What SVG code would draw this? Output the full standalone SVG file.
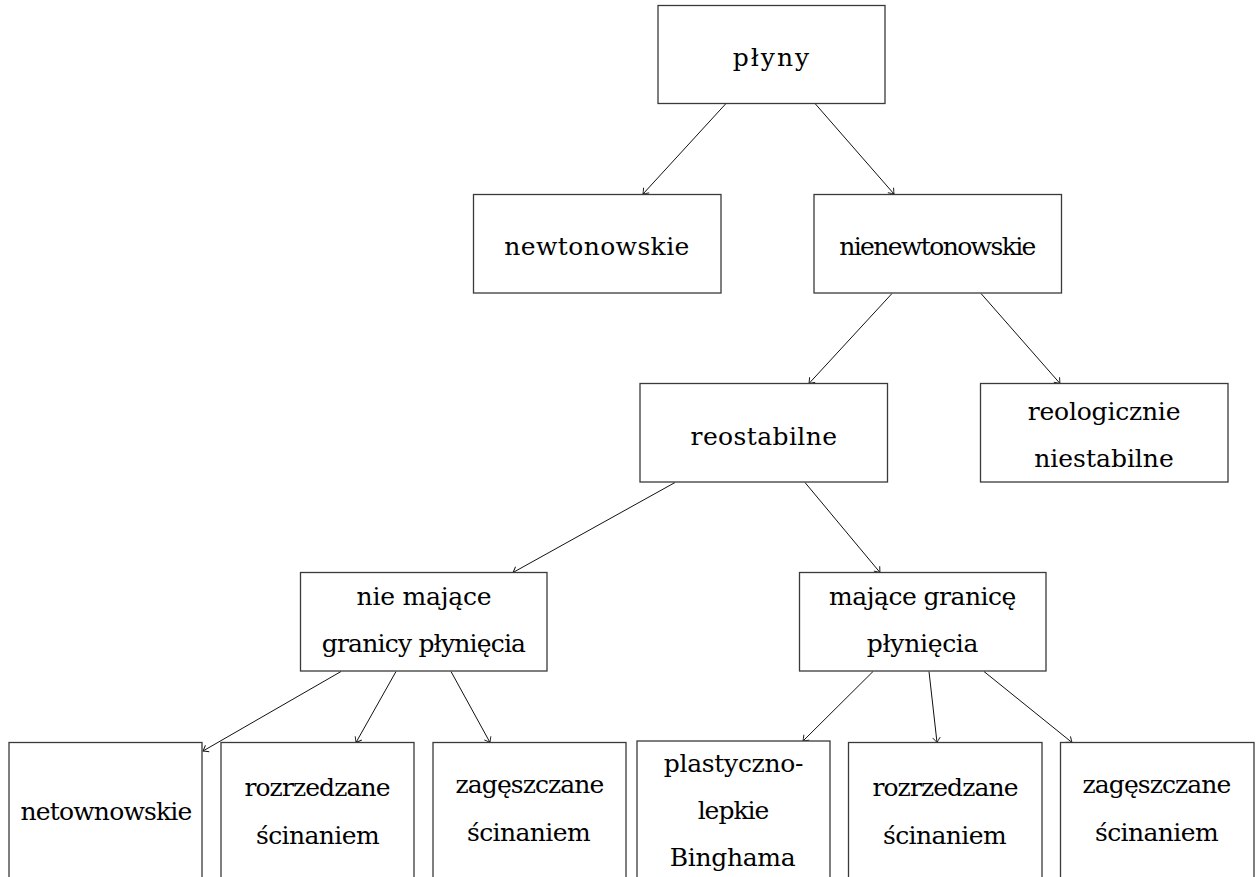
<svg xmlns="http://www.w3.org/2000/svg" width="1259" height="877" viewBox="0 0 1259 877">
<style>
.box{fill:#ffffff;stroke:#3a3a3a;stroke-width:1.3}
.edge{stroke:#111;stroke-width:1;fill:none;marker-end:url(#to)}
</style>
<defs>
<marker id="to" viewBox="-6 -5 7 10" refX="0" refY="0" markerWidth="7" markerHeight="10" markerUnits="userSpaceOnUse" orient="auto">
<path d="M -5 -3.8 Q -1.5 -1 0 0 Q -1.5 1 -5 3.8" fill="none" stroke="#111" stroke-width="0.9"/>
</marker>
</defs>
<rect width="1259" height="877" fill="#ffffff"/>
<g id="connectors">
<line class="edge" x1="726" y1="103.5" x2="643" y2="194"/>
<line class="edge" x1="815" y1="103.5" x2="894" y2="194"/>
<line class="edge" x1="892" y1="293.5" x2="809" y2="383.5"/>
<line class="edge" x1="981" y1="293.5" x2="1060" y2="383.5"/>
<line class="edge" x1="675" y1="482.5" x2="513" y2="572.5"/>
<line class="edge" x1="805" y1="482.5" x2="880" y2="572.5"/>
<line class="edge" x1="341" y1="671.5" x2="203" y2="751"/>
<line class="edge" x1="396" y1="671.5" x2="356" y2="742.5"/>
<line class="edge" x1="451" y1="671.5" x2="490" y2="742.5"/>
<line class="edge" x1="873" y1="671.5" x2="803" y2="741"/>
<line class="edge" x1="929" y1="671.5" x2="937" y2="742.5"/>
<line class="edge" x1="984" y1="671.5" x2="1072" y2="742.5"/>
</g>
<g id="n-plyny">
<rect class="box" x="658" y="5.5" width="227" height="98"/>
<text x="772" y="66" font-family="DejaVu Serif" font-size="25" text-anchor="middle" letter-spacing="2">płyny</text>
</g>
<g id="n-newtonowskie">
<rect class="box" x="473.5" y="194.5" width="247.5" height="98.5"/>
<text x="597" y="255" font-family="DejaVu Serif" font-size="25" text-anchor="middle" letter-spacing="0.4">newtonowskie</text>
</g>
<g id="n-nienewtonowskie">
<rect class="box" x="814" y="194.5" width="247.5" height="98.5"/>
<text x="937" y="255" font-family="DejaVu Serif" font-size="25" text-anchor="middle" letter-spacing="-1.6">nienewtonowskie</text>
</g>
<g id="n-reostabilne">
<rect class="box" x="640" y="383.5" width="247.5" height="98.5"/>
<text x="764" y="445" font-family="DejaVu Serif" font-size="25" text-anchor="middle" letter-spacing="0.4">reostabilne</text>
</g>
<g id="n-reologicznie">
<rect class="box" x="980.5" y="383.5" width="247.5" height="98.5"/>
<text x="1104" y="420" font-family="DejaVu Serif" font-size="25" text-anchor="middle" letter-spacing="-0.2">reologicznie</text>
<text x="1104" y="467" font-family="DejaVu Serif" font-size="25" text-anchor="middle">niestabilne</text>
</g>
<g id="n-nie-majace">
<rect class="box" x="300.5" y="572.5" width="246.5" height="98.5"/>
<text x="424" y="605" font-family="DejaVu Serif" font-size="25" text-anchor="middle" letter-spacing="-0.2">nie mające</text>
<text x="423.5" y="652" font-family="DejaVu Serif" font-size="25" text-anchor="middle" letter-spacing="-0.8">granicy płynięcia</text>
</g>
<g id="n-majace">
<rect class="box" x="799.5" y="572.5" width="246.5" height="98.5"/>
<text x="922.5" y="605" font-family="DejaVu Serif" font-size="25" text-anchor="middle" letter-spacing="-0.5">mające granicę</text>
<text x="922.5" y="652" font-family="DejaVu Serif" font-size="25" text-anchor="middle" letter-spacing="-0.3">płynięcia</text>
</g>
<g id="n-netownowskie">
<rect class="box" x="9" y="742.5" width="193" height="140"/>
<text x="106" y="820" font-family="DejaVu Serif" font-size="25" text-anchor="middle" letter-spacing="-0.8">netownowskie</text>
</g>
<g id="n-rozrzedzane-1">
<rect class="box" x="221" y="742.5" width="193" height="140"/>
<text x="317" y="796" font-family="DejaVu Serif" font-size="25" text-anchor="middle" letter-spacing="-0.9">rozrzedzane</text>
<text x="317.5" y="844" font-family="DejaVu Serif" font-size="25" text-anchor="middle" letter-spacing="-0.6">ścinaniem</text>
</g>
<g id="n-zageszczane-1">
<rect class="box" x="433" y="742.5" width="193" height="140"/>
<text x="529.5" y="793" font-family="DejaVu Serif" font-size="25" text-anchor="middle" letter-spacing="-0.9">zagęszczane</text>
<text x="528.5" y="841" font-family="DejaVu Serif" font-size="25" text-anchor="middle" letter-spacing="-0.6">ścinaniem</text>
</g>
<g id="n-plastyczno">
<rect class="box" x="637" y="741" width="193" height="141"/>
<text x="733.5" y="772" font-family="DejaVu Serif" font-size="25" text-anchor="middle" letter-spacing="-0.3">plastyczno-</text>
<text x="733" y="819" font-family="DejaVu Serif" font-size="25" text-anchor="middle" letter-spacing="-1">lepkie</text>
<text x="732.5" y="866" font-family="DejaVu Serif" font-size="25" text-anchor="middle" letter-spacing="-0.3">Binghama</text>
</g>
<g id="n-rozrzedzane-2">
<rect class="box" x="848.5" y="742.5" width="193.5" height="140"/>
<text x="945" y="796" font-family="DejaVu Serif" font-size="25" text-anchor="middle" letter-spacing="-0.9">rozrzedzane</text>
<text x="944.5" y="844" font-family="DejaVu Serif" font-size="25" text-anchor="middle" letter-spacing="-0.6">ścinaniem</text>
</g>
<g id="n-zageszczane-2">
<rect class="box" x="1060.5" y="742.5" width="193.5" height="140"/>
<text x="1156.5" y="793" font-family="DejaVu Serif" font-size="25" text-anchor="middle" letter-spacing="-0.9">zagęszczane</text>
<text x="1156.5" y="841" font-family="DejaVu Serif" font-size="25" text-anchor="middle" letter-spacing="-0.6">ścinaniem</text>
</g>
</svg>
